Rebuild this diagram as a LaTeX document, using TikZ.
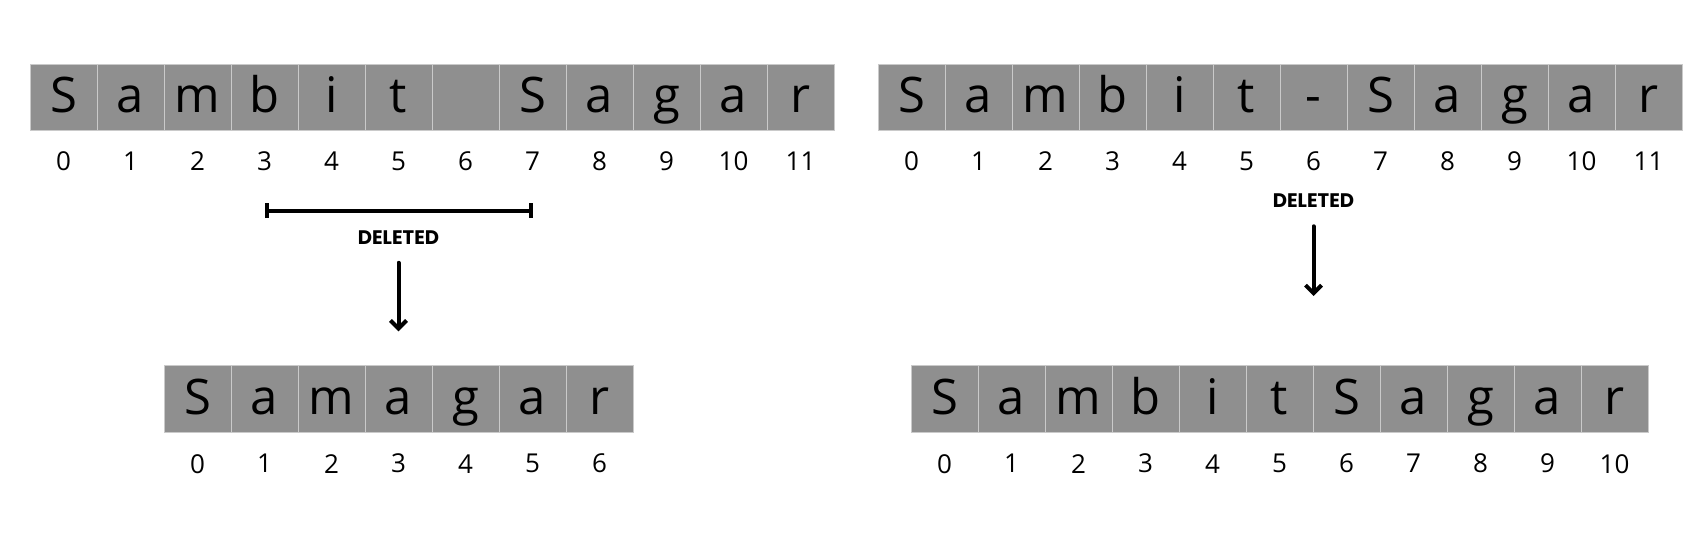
\documentclass[tikz,border=0pt]{standalone}
\usepackage{fontspec}
\setmainfont{Open Sans}
\newfontfamily\tagfont{Poppins}
\usepackage{tikz}
\usetikzlibrary{positioning}
\usetikzlibrary{arrows.meta}
\definecolor{cellgray}{HTML}{8F8F8F}
\definecolor{seplight}{HTML}{CACACA}
\tikzstyle{cell} = [rectangle, draw=seplight, line width=0.4pt, fill=cellgray,
    minimum width=33.5pt, minimum height=33.3pt, inner sep=0pt,
    text height=19pt, text depth=3.6pt, font=\fontsize{24.5}{24.5}\selectfont]
\tikzstyle{idx} = [inner sep=0pt, font=\fontsize{13}{13}\selectfont]
\tikzstyle{tag} = [inner sep=0pt, font=\tagfont\bfseries\fontsize{9.8}{9.8}\selectfont]
\tikzstyle{line} = [draw, line width=2pt, line cap=round,
    -{Straight Barb[length=4pt,width=8pt]}]
\tikzstyle{span} = [draw, line width=2pt, {Bar[width=7.5pt]}-{Bar[width=7.5pt]}]

\begin{document}
\begin{tikzpicture}[x=0.5pt, y=-0.5pt]
    \useasboundingbox (0,0) rectangle (1708,535);
    % Place nodes
    \foreach \ch [count=\i from 0] in {S,a,m,b,i,t,{},S,a,g,a,r} {
        \node[cell] (a\i) at (63.5+67*\i, 97.3) {\ch};
        \node[idx] (ai\i) at ([yshift=-15pt]a\i.south) {\i};
    }
    \foreach \ch [count=\i from 0] in {S,a,m,b,i,t,-,S,a,g,a,r} {
        \node[cell] (c\i) at (911.5+67*\i, 97.3) {\ch};
        \node[idx] (ci\i) at ([yshift=-15pt]c\i.south) {\i};
    }
    \foreach \ch [count=\i from 0] in {S,a,m,a,g,a,r} {
        \node[cell] (b\i) at (197.5+67*\i, 399) {\ch};
        \node[idx] (bi\i) at ([yshift=-15.5pt]b\i.south) {\i};
    }
    \foreach \ch [count=\i from 0] in {S,a,m,b,i,t,S,a,g,a,r} {
        \node[cell] (d\i) at (944.5+67*\i, 399) {\ch};
        \node[idx] (di\i) at ([yshift=-15.5pt]d\i.south) {\i};
    }
    \coordinate (s1) at (a3 |- 0,210.7);
    \coordinate (s2) at (a7 |- 0,210.7);
    \node[tag] (del1) at (b3 |- 0,237.5) {DELETED};
    \node[tag] (del2) at (c6 |- 0,201) {DELETED};
    \coordinate (e2) at (c6 |- 0,296);
    % Draw edges
    \path [span] (s1) -- (s2);
    \path [line, shorten <=9pt, shorten >=17pt] (del1) -- (b3);
    \path [line, shorten <=9pt] (del2) -- (e2);
\end{tikzpicture}
\end{document}
